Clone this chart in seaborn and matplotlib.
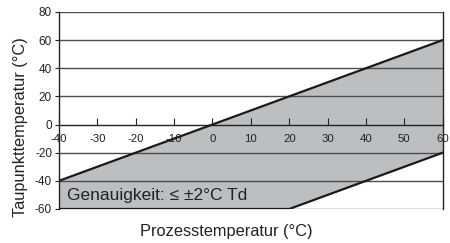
import numpy as np
import pandas as pd
import matplotlib
matplotlib.use('Agg')
import matplotlib.pyplot as plt
import seaborn as sns

# boundary points of the accuracy band
process_temp = [-40, 20, 60]
dewpoint_upper = [-40, 20, 60]
dewpoint_lower = [-60, -60, -20]

x_ticks = [-40, -30, -20, -10, 0, 10, 20, 30, 40, 50, 60]
y_ticks = [-60, -40, -20, 0, 20, 40, 60, 80]
band_label = 'Genauigkeit: \u2264 \u00b12°C Td'


def main():
    sns.set_style('white')
    plt.rcParams['font.family'] = ['Liberation Sans', 'DejaVu Sans']

    fig = plt.figure(figsize=(4.5, 2.43), dpi=100)
    ax = fig.add_axes([0.131, 0.140, 0.853, 0.811])
    ax.set_axisbelow(False)  # tick labels must sit on top of the grey band

    df = pd.DataFrame({'x': process_temp, 'upper': dewpoint_upper, 'lower': dewpoint_lower})

    # shaded band
    ax.fill_between(df['x'], df['lower'], df['upper'], color='#bdbec0', lw=0, zorder=1)

    # horizontal grid lines
    for yv in y_ticks:
        if yv != 0:
            ax.axhline(yv, color='#4d4d4d', lw=1.0, zorder=2)

    # band edges
    sns.lineplot(data=df, x='x', y='upper', color='#1a1a1a', lw=1.6, ax=ax, zorder=3)
    sns.lineplot(data=df, x='x', y='lower', color='#1a1a1a', lw=1.6, ax=ax, zorder=3)

    ax.set_xlim(-40, 60)
    ax.set_ylim(-60, 80)

    ax.spines['bottom'].set_position(('data', 0))
    ax.spines['top'].set_visible(False)
    for side in ['bottom', 'left', 'right']:
        ax.spines[side].set_color('#222222')
        ax.spines[side].set_linewidth(1.0)

    ax.set_xticks(x_ticks)
    ax.set_yticks(y_ticks)
    ax.set_xticklabels([str(v) for v in x_ticks])
    ax.set_yticklabels([str(v) for v in y_ticks])
    ax.tick_params(axis='x', direction='in', length=5, width=0.8, color='#222222',
                   labelsize=8.2, pad=6.5, bottom=True, labelcolor='#222222')
    ax.tick_params(axis='y', direction='out', length=3, width=0.8, color='#222222',
                   labelsize=8.5, pad=2, left=True, labelcolor='#222222')

    ax.set_xlabel('')
    ax.set_ylabel('')
    fig.text(0.046, 0.477, 'Taupunkttemperatur (°C)', rotation=90, ha='center', va='center',
             fontsize=11.8, color='#222222')
    fig.text(0.502, 0.048, 'Prozesstemperatur (°C)', ha='center', va='center',
             fontsize=11.8, color='#222222')

    ax.text(-37.8, -50.5, band_label, ha='left', va='center', fontsize=12.5, color='#222222', zorder=4)

    fig.savefig('out.png', dpi=100)


if __name__ == "__main__":
    main()
